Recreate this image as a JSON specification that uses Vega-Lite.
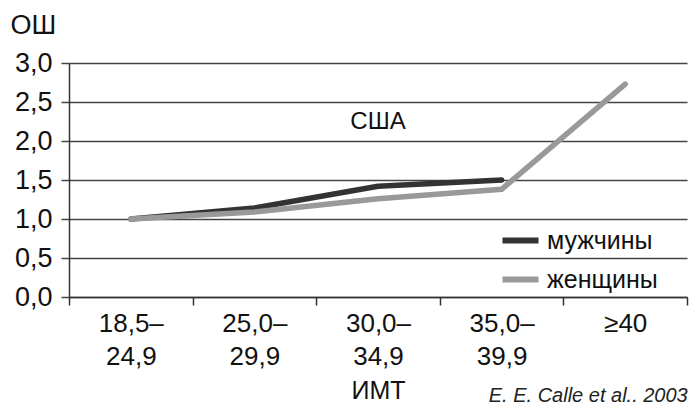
{
  "$schema": "https://vega.github.io/schema/vega-lite/v6.json",
  "width": 618,
  "height": 234,
  "autosize": {"type": "none"},
  "padding": {"left": 69, "top": 63, "right": 3, "bottom": 108},
  "background": "white",
  "config": {
    "view": {"stroke": null},
    "font": "Liberation Sans",
    "locale": {"number": {"decimal": ",", "thousands": " ", "grouping": [3], "currency": ["", ""]}},
    "axis": {"labelFont": "Liberation Sans", "titleFont": "Liberation Sans", "labelColor": "#111", "titleColor": "#111"}
  },
  "title": {
    "text": "E. E. Calle et al.. 2003",
    "orient": "bottom",
    "anchor": "end",
    "font": "Liberation Sans",
    "fontStyle": "italic",
    "fontWeight": "normal",
    "fontSize": 20,
    "color": "#222",
    "offset": -17
  },
  "datasets": {
    "pts": [
      {"cat": "18,5–24,9", "sex": "мужчины", "or": 1.0},
      {"cat": "25,0–29,9", "sex": "мужчины", "or": 1.14},
      {"cat": "30,0–34,9", "sex": "мужчины", "or": 1.42},
      {"cat": "35,0–39,9", "sex": "мужчины", "or": 1.5},
      {"cat": "18,5–24,9", "sex": "женщины", "or": 1.0},
      {"cat": "25,0–29,9", "sex": "женщины", "or": 1.09},
      {"cat": "30,0–34,9", "sex": "женщины", "or": 1.26},
      {"cat": "35,0–39,9", "sex": "женщины", "or": 1.38},
      {"cat": "≥40", "sex": "женщины", "or": 2.73}
    ],
    "note": [
      {"cat": "30,0–34,9", "or": 2.24, "t": "США"}
    ]
  },
  "encoding": {
    "x": {
      "field": "cat", "type": "nominal",
      "sort": ["18,5–24,9", "25,0–29,9", "30,0–34,9", "35,0–39,9", "≥40"],
      "scale": {"type": "band", "paddingInner": 0, "paddingOuter": 0},
      "axis": {
        "title": "ИМТ",
        "titleFontSize": 25,
        "titleFontWeight": "normal",
        "titleBaseline": "alphabetic",
        "titleY": 101,
        "labelAngle": 0,
        "labelFontSize": 26,
        "labelLineHeight": 33,
        "labelPadding": 5,
        "labelBaseline": "top",
        "labelExpr": "length(datum.label) > 5 ? [substring(datum.label, 0, 5), substring(datum.label, 5)] : datum.label",
        "tickBand": "extent",
        "tickSize": 8,
        "tickColor": "#333",
        "tickWidth": 1.5,
        "domainColor": "#333",
        "domainWidth": 1.5,
        "grid": false
      }
    },
    "y": {
      "field": "or", "type": "quantitative",
      "scale": {"domain": [0, 3], "nice": false, "zero": true},
      "axis": {
        "values": [0, 0.5, 1, 1.5, 2, 2.5, 3],
        "format": ".1f",
        "labelOverlap": false,
        "labelFlush": false,
        "labelFontSize": 27,
        "labelPadding": 9,
        "tickSize": 8,
        "tickColor": "#444",
        "tickWidth": 1.5,
        "grid": true,
        "gridColor": "#444",
        "gridWidth": 1.5,
        "domainColor": "#333",
        "domainWidth": 1.5,
        "title": "ОШ",
        "titleFontSize": 27,
        "titleFontWeight": "normal",
        "titleAngle": 0,
        "titleAlign": "left",
        "titleBaseline": "alphabetic",
        "titleX": -59,
        "titleY": -30
      }
    }
  },
  "layer": [
    {
      "data": {"name": "pts"},
      "mark": {"type": "line", "strokeWidth": 5.5, "strokeCap": "round", "strokeJoin": "round"},
      "encoding": {
        "color": {
          "field": "sex", "type": "nominal",
          "scale": {"domain": ["мужчины", "женщины"], "range": ["#333333", "#999999"]},
          "legend": {
            "title": null,
            "orient": "none",
            "legendX": 430,
            "legendY": 156,
            "symbolType": "stroke",
            "symbolSize": 1300,
            "symbolStrokeWidth": 6,
            "labelFontSize": 25,
            "labelFont": "Liberation Sans",
            "labelColor": "#111",
            "labelOffset": 5,
            "rowPadding": 4
          }
        }
      }
    },
    {
      "data": {"name": "note"},
      "mark": {"type": "text", "fontSize": 24, "font": "Liberation Sans", "color": "#111", "baseline": "middle"},
      "encoding": {
        "text": {"field": "t"}
      }
    }
  ]
}
